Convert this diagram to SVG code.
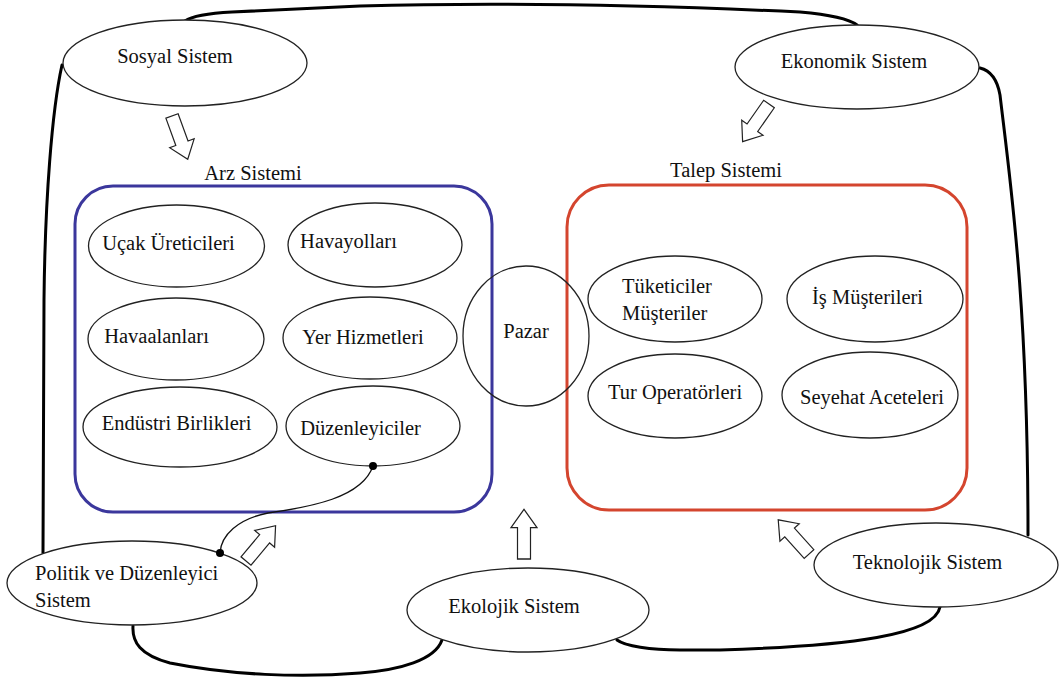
<svg xmlns="http://www.w3.org/2000/svg" width="1061" height="684" viewBox="0 0 1061 684">
<style>
text{font-family:"Liberation Serif","Times New Roman",serif;font-size:20.5px;fill:#111;}
.m{text-anchor:middle;}
.el{fill:#fff;stroke:#222;stroke-width:1.3;}
.pz{fill:none;stroke:#222;stroke-width:1.3;}
.outer{fill:none;stroke:#000;stroke-width:3;stroke-linecap:round;}
.bar{fill:#fff;stroke:#222;stroke-width:1.2;stroke-linejoin:miter;}
.link{fill:none;stroke:#111;stroke-width:1.3;}
</style>
<defs>
<path id="blk" d="M0,-6.5 L29,-6.5 L29,-13 L46,0 L29,13 L29,6.5 L0,6.5 Z"/>
</defs>
<rect width="1061" height="684" fill="#fff"/>
<g id="connectors">
<path class="outer" d="M185,21 Q195,14 232,12 L360,6 C500,2 650,5 800,12 Q845,16 857,25"/>
<path class="outer" d="M980,68 Q996,72 1000,95 C1010,180 1028,300 1028,535"/>
<path class="outer" d="M940,607 C935,635 850,646 720,650 L680,650 C650,650 625,646 617,640"/>
<path class="outer" d="M442,640 C435,660 400,670 360,673 C300,678 230,675 170,663 C140,655 132,642 133,626"/>
<path class="outer" d="M62,65 C52,110 45,200 44,300 L43,553"/>
</g>
<g id="arz-sistemi">
<rect x="75" y="186" width="417" height="326" rx="38" fill="none" stroke="#3b379c" stroke-width="3"/>
<text class="m" x="253" y="180">Arz Sistemi</text>
</g>
<g id="talep-sistemi">
<rect x="567" y="185" width="400" height="325" rx="42" fill="none" stroke="#d4452e" stroke-width="3"/>
<text class="m" x="726" y="177">Talep Sistemi</text>
</g>
<g id="sosyal"><ellipse class="el" cx="185" cy="63" rx="122" ry="43"/><text class="m" x="175" y="63">Sosyal Sistem</text></g>
<g id="ekonomik"><ellipse class="el" cx="857" cy="67" rx="122" ry="42"/><text class="m" x="854" y="68">Ekonomik Sistem</text></g>
<g id="ucak"><ellipse class="el" cx="176.5" cy="246" rx="88" ry="41"/><text class="m" x="168.5" y="250">Uçak Üreticileri</text></g>
<g id="havayollari"><ellipse class="el" cx="375" cy="245" rx="87" ry="42"/><text class="m" x="348.5" y="248">Havayolları</text></g>
<g id="havaalanlari"><ellipse class="el" cx="176" cy="339" rx="88" ry="41"/><text class="m" x="156.5" y="343">Havaalanları</text></g>
<g id="yer"><ellipse class="el" cx="370" cy="338" rx="87" ry="41"/><text class="m" x="363" y="344">Yer Hizmetleri</text></g>
<g id="endustri"><ellipse class="el" cx="180" cy="427" rx="97" ry="40"/><text class="m" x="176.5" y="430">Endüstri Birlikleri</text></g>
<g id="duzenleyiciler"><ellipse class="el" cx="373" cy="426" rx="87" ry="40"/><text class="m" x="360.5" y="435">Düzenleyiciler</text></g>
<g id="pazar"><ellipse class="pz" cx="526" cy="336" rx="63" ry="70"/><text class="m" x="526" y="338">Pazar</text></g>
<g id="tuketiciler"><ellipse class="el" cx="675" cy="299" rx="87" ry="43"/><text x="622" y="293">Tüketiciler</text><text x="622" y="320">Müşteriler</text></g>
<g id="is"><ellipse class="el" cx="875" cy="299" rx="88" ry="43"/><text class="m" x="867.5" y="304">İş Müşterileri</text></g>
<g id="tur"><ellipse class="el" cx="675" cy="396" rx="87" ry="42"/><text class="m" x="675" y="399">Tur Operatörleri</text></g>
<g id="seyehat"><ellipse class="el" cx="870" cy="395" rx="88" ry="43"/><text class="m" x="872" y="404">Seyehat Aceteleri</text></g>
<g id="politik"><ellipse class="el" cx="132" cy="583" rx="125" ry="42"/><text x="35" y="580">Politik ve Düzenleyici</text><text x="35" y="607">Sistem</text></g>
<g id="ekolojik"><ellipse class="el" cx="528" cy="610" rx="121" ry="42"/><text class="m" x="514" y="613">Ekolojik Sistem</text></g>
<g id="teknolojik"><ellipse class="el" cx="936" cy="565" rx="122" ry="42"/><text class="m" x="927.5" y="569">Teknolojik Sistem</text></g>
<g id="arrows">
<use href="#blk" class="bar" transform="translate(172,116) rotate(70)"/>
<use href="#blk" class="bar" transform="translate(769,104) rotate(125)"/>
<use href="#blk" class="bar" transform="translate(246,561) rotate(-50)"/>
<use href="#blk" class="bar" transform="translate(524,559) rotate(-90) scale(1.08,1)"/>
<use href="#blk" class="bar" transform="translate(809,554) rotate(-132)"/>
</g>
<g id="duzenleyici-link">
<path class="link" d="M373,466 C362,498 310,507 268,513 C238,519 221,535 220,553"/>
<circle cx="373" cy="466" r="4" fill="#000"/>
<circle cx="220" cy="553" r="4" fill="#000"/>
</g>
</svg>
